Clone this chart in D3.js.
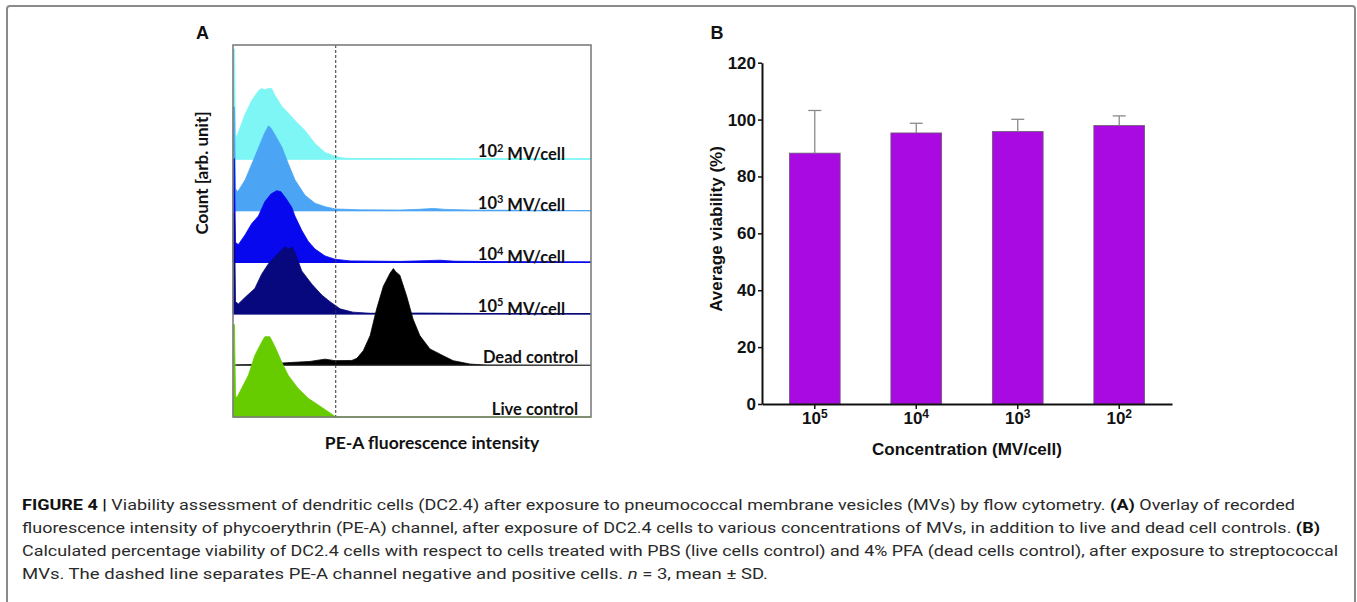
<!DOCTYPE html>
<html lang="en">
<head>
<meta charset="UTF-8">
<title>Figure 4</title>
<script src="https://cdn.jsdelivr.net/npm/d3@7"></script>
<style>
  body { margin: 0; background: #fff; }
  .hist text { font-family: Lato, "Open Sans", sans-serif; font-weight: bold; fill: #111; }
  .bars text { font-family: "Liberation Sans", Arial, sans-serif; font-weight: bold; fill: #111; }
  .caption text { font-family: Roboto, "Liberation Sans", sans-serif; font-size: 15.5px; fill: #2a2a2a; }
</style>
</head>
<body>
<svg id="fig" width="1357" height="602"></svg>
<script>
// ---- panel A : PE-A histograms, [channel (0-100), count (arb.)]
const samples = ["10^2 MV/cell", "10^3 MV/cell", "10^4 MV/cell", "10^5 MV/cell", "Dead control", "Live control"];
const sampleColors = ["#7ff6f6", "#4ba4f4", "#0808ee", "#08087e", "#000000", "#66cc00"];

const hist102 = [[0,0],[0.1,100],[0.4,100],[0.7,23],[1.0,20],[3.4,41],[5.2,53],[7.1,62],[8.0,64],[8.9,63],[9.8,64],[10.8,64],[11.7,58],[13.6,48],[15.4,42],[17.3,35],[20.1,26],[22.9,14],[25.7,6],[28.5,2.4],[31.3,0.6],[35.5,0.3],[100,0]];
const hist103 = [[0,0],[0.1,94],[0.4,94],[0.7,20],[1.3,17],[3.4,28],[6.1,49],[8.0,64],[8.9,71],[9.9,77],[10.6,75],[11.7,69],[13.6,58],[15.4,43],[17.3,28],[20.1,14],[22.9,6.7],[25.7,3.6],[28.5,1.5],[35.5,0.7],[46.6,0.5],[52.2,1.2],[55.9,2],[59.2,1.1],[66.2,0.5],[100,0]];
const hist104 = [[0,0],[0.1,94],[0.4,94],[0.7,18],[1.5,16],[3.4,25],[5.2,35],[7.1,42],[8.9,55],[10.6,62],[12.2,65],[13.4,64],[14.8,58],[16.4,50],[17.3,42],[19.2,29],[21.0,19],[22.9,12],[25.7,5.7],[28.5,2.7],[32.7,1.2],[46.6,0.7],[53.6,1.4],[57.8,1.8],[62.0,0.9],[74.6,0.5],[100,0]];
const hist105 = [[0,0],[0.1,91],[0.4,91],[0.7,11],[1.5,9],[3.4,15],[6.1,23],[8.0,36],[9.8,45],[12.6,55],[13.6,58],[14.5,61],[15.6,59],[16.5,61],[17.3,56],[19.2,39],[22.0,27],[24.8,17],[27.1,11],[29.9,4.5],[33.5,1.5],[38.3,0.5],[52.2,0.7],[69.0,0.3],[100,0]];
const histDead = [[0,0],[1.0,0.5],[7.5,0.9],[16.4,2.7],[21.5,3.6],[25.7,5.7],[28.5,4.3],[33.2,4.5],[34.6,6.4],[36.4,13.4],[38.3,27],[40.1,51],[42.0,72],[43.9,84],[44.8,88],[45.5,85],[46.6,82],[48.5,63],[50.3,42],[52.2,27],[55.0,15],[58.7,8.8],[61.5,4.3],[66.2,1.2],[70.8,0.3],[100,0]];
const histLive = [[0,0],[0.1,84],[0.4,84],[0.7,20],[1.0,17],[2.4,26],[4.3,38],[6.1,56],[8.0,68],[8.9,73],[9.8,73],[10.3,73],[11.7,64],[13.6,50],[15.4,38],[18.2,26],[21.0,17],[23.8,11],[26.6,4.8],[28.5,0.5],[29.9,0]];
const histograms = [hist102, hist103, hist104, hist105, histDead, histLive];
const gateChannel = 28.7;   // dashed line

// ---- panel B : viability
const concentrations = ["10^5", "10^4", "10^3", "10^2"];
const viabilityMean = [88.2, 95.3, 95.8, 97.9];
const viabilitySD = [15.0, 3.4, 4.3, 3.4];
const viabilityTicks = [0, 20, 40, 60, 80, 100, 120];

const svg = d3.select("#fig");

// outer frame
svg.append("rect")
  .attr("x", 7).attr("y", 6).attr("width", 1348).attr("height", 630)
  .attr("rx", 3)
  .attr("fill", "none").attr("stroke", "#8a8a8a").attr("stroke-width", 2);

// helper: "10^2 MV/cell" -> 10 + superscript
function powerText(sel, label, supSize) {
  const m = label.match(/^(\d+)\^(\d+)(.*)$/);
  if (!m) { sel.text(label); return; }
  sel.append("tspan").text(m[1]);
  sel.append("tspan").attr("dy", "-0.5em").attr("font-size", supSize).text(m[2]);
  sel.append("tspan").attr("dy", "0.5em").text(m[3]);
}

// ================= panel A =================
const gA = svg.append("g").attr("class", "hist");
const xA = d3.scaleLinear().domain([0, 100]).range([233, 591]);
const hA = d3.scaleLinear().domain([0, 100]).range([0, 110]);
const rowA = d3.scalePoint().domain(samples).range([159, 417]);

samples.forEach((name, i) => {
  const base = rowA(name);
  const area = d3.area()
    .x(d => xA(d[0]))
    .y0(base)
    .y1(d => base - hA(d[1]));
  gA.append("path")
    .datum(histograms[i])
    .attr("d", area)
    .attr("fill", sampleColors[i])
    .attr("stroke", sampleColors[i])
    .attr("stroke-width", 0.8);
  gA.append("line")
    .attr("x1", xA(0)).attr("x2", xA(100))
    .attr("y1", base).attr("y2", base)
    .attr("stroke", i === 4 ? "#444" : sampleColors[i])
    .attr("stroke-width", 1.4);
});

// labels
samples.forEach((name, i) => {
  const isCtrl = i >= 4;
  const t = gA.append("text")
    .attr("x", isCtrl ? 578 : 565)
    .attr("y", rowA(name) - 2)
    .attr("text-anchor", "end")
    .attr("font-size", 16.5);
  powerText(t, name, 11);
});

// gate
gA.append("line")
  .attr("x1", xA(gateChannel)).attr("x2", xA(gateChannel))
  .attr("y1", 45).attr("y2", 417)
  .attr("stroke", "#333").attr("stroke-width", 1)
  .attr("stroke-dasharray", "3,2");

// plot frame
gA.append("rect")
  .attr("x", xA(0)).attr("y", 45)
  .attr("width", xA(100) - xA(0)).attr("height", 417 - 45)
  .attr("fill", "none").attr("stroke", "#7d7d7d").attr("stroke-width", 1.6);

gA.append("text")
  .attr("transform", "translate(208,173) rotate(-90)")
  .attr("text-anchor", "middle").attr("font-size", 17)
  .text("Count [arb. unit]");
gA.append("text")
  .attr("x", 432).attr("y", 449)
  .attr("text-anchor", "middle").attr("font-size", 17.5)
  .text("PE-A fluorescence intensity");

// ================= panel B =================
const gB = svg.append("g").attr("class", "bars");
const yB = d3.scaleLinear().domain([0, 120]).range([404, 62.7]);
const xB = d3.scaleBand().domain(concentrations).range([762, 1172])
  .paddingInner(0.5).paddingOuter(0.27);

gB.selectAll("rect.bar")
  .data(concentrations)
  .join("rect")
  .attr("class", "bar")
  .attr("x", d => xB(d))
  .attr("width", xB.bandwidth())
  .attr("y", (d, i) => yB(viabilityMean[i]))
  .attr("height", (d, i) => yB(0) - yB(viabilityMean[i]))
  .attr("fill", "#a90ae2")
  .attr("stroke", "#6a5a70").attr("stroke-width", 0.8);

// error bars (upper only)
const err = gB.selectAll("g.err")
  .data(concentrations)
  .join("g").attr("class", "err")
  .attr("stroke", "#8a8a8a").attr("stroke-width", 1.3);
err.append("line")
  .attr("x1", d => xB(d) + xB.bandwidth() / 2)
  .attr("x2", d => xB(d) + xB.bandwidth() / 2)
  .attr("y1", (d, i) => yB(viabilityMean[i]))
  .attr("y2", (d, i) => yB(viabilityMean[i] + viabilitySD[i]));
err.append("line")
  .attr("x1", d => xB(d) + xB.bandwidth() / 2 - 6.5)
  .attr("x2", d => xB(d) + xB.bandwidth() / 2 + 6.5)
  .attr("y1", (d, i) => yB(viabilityMean[i] + viabilitySD[i]))
  .attr("y2", (d, i) => yB(viabilityMean[i] + viabilitySD[i]));

const yAxis = gB.append("g")
  .attr("transform", "translate(762,0)")
  .call(d3.axisLeft(yB).tickValues(viabilityTicks).tickSize(4).tickSizeOuter(0).tickPadding(2));
const xAxis = gB.append("g")
  .attr("transform", "translate(0,404)")
  .call(d3.axisBottom(xB).tickSize(5).tickSizeOuter(0).tickFormat(""));
[yAxis, xAxis].forEach(a => {
  a.select(".domain").attr("stroke", "#111").attr("stroke-width", 2);
  a.selectAll(".tick line").attr("stroke", "#111").attr("stroke-width", 1.5);
});
yAxis.selectAll(".tick text")
  .attr("font-size", 17).attr("font-family", null).attr("fill", "#111");

xAxis.selectAll(".tick").each(function(d) {
  const t = d3.select(this).append("text")
    .attr("y", 20).attr("text-anchor", "middle")
    .attr("font-size", 17).attr("fill", "#111");
  powerText(t, d, 12);
});

gB.append("text")
  .attr("transform", "translate(722,229) rotate(-90)")
  .attr("text-anchor", "middle").attr("font-size", 17)
  .text("Average viability (%)");
gB.append("text")
  .attr("x", 967).attr("y", 455)
  .attr("text-anchor", "middle").attr("font-size", 17)
  .text("Concentration (MV/cell)");

// panel letters
svg.append("g").attr("class", "bars").selectAll("text")
  .data([["A", 196], ["B", 710.5]])
  .join("text")
  .attr("x", d => d[1]).attr("y", 38.5)
  .attr("font-size", 18)
  .text(d => d[0]);

// ================= caption =================
const captionLines = [
  [["FIGURE 4 | ", "b"], ["Viability assessment of dendritic cells (DC2.4) after exposure to pneumococcal membrane vesicles (MVs) by flow cytometry. "], ["(A)", "b"], [" Overlay of recorded"]],
  [["fluorescence intensity of phycoerythrin (PE-A) channel, after exposure of DC2.4 cells to various concentrations of MVs, in addition to live and dead cell controls. "], ["(B)", "b"]],
  [["Calculated percentage viability of DC2.4 cells with respect to cells treated with PBS (live cells control) and 4% PFA (dead cells control), after exposure to streptococcal"]],
  [["MVs. The dashed line separates PE-A channel negative and positive cells. "], ["n", "i"], [" = 3, mean \u00b1 SD."]]
];
const captionRight = [1295, 1320, 1338, 768];
const gC = svg.append("g").attr("class", "caption");
captionLines.forEach((parts, i) => {
  const t = gC.append("text")
    .attr("x", 22).attr("y", 510 + i * 23)
    .attr("textLength", captionRight[i] - 22)
    .attr("lengthAdjust", "spacingAndGlyphs")
    .attr("xml:space", "preserve");
  parts.forEach(p => {
    const s = t.append("tspan").text(p[0]);
    if (p[1] === "b") s.attr("font-weight", "bold").attr("fill", "#111");
    if (p[1] === "i") s.attr("font-style", "italic");
  });
});
</script>
</body>
</html>
